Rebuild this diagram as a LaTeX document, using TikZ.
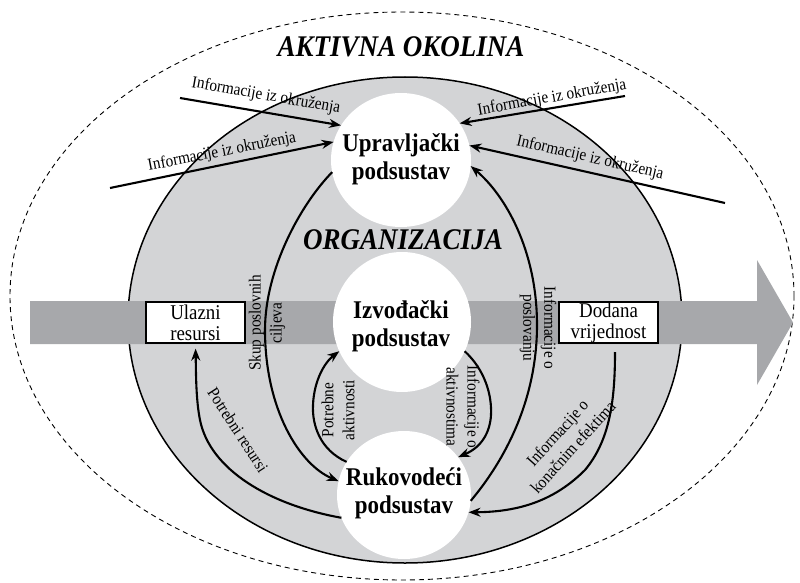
\documentclass[tikz,border=0pt]{standalone}
\usepackage{fontspec}
\setmainfont{Liberation Serif}[FakeStretch=0.9]
\usetikzlibrary{arrows.meta,shapes.geometric,calc}
\definecolor{orgfill}{RGB}{211,212,214}
\definecolor{bandgrey}{RGB}{167,168,171}
\begin{document}
\begin{tikzpicture}[x=1pt,y=-1pt,
  conn/.style={line width=2.1pt,-{Stealth[length=12pt,width=9pt]}},
  subsys/.style={ellipse,fill=white,inner sep=0pt,outer sep=0pt},
  sublbl/.style={inner sep=0pt,align=center,font=\fontsize{25.5}{28}\selectfont\bfseries},
  lbl/.style={inner sep=0pt,align=center,font=\fontsize{17}{21}\selectfont},
  boxlbl/.style={draw,line width=1.3pt,fill=white,inner sep=0pt,minimum width=99pt,minimum height=41pt,align=center,font=\fontsize{21}{21}\selectfont},
  titlelbl/.style={inner sep=0pt,font=\fontsize{30}{34}\selectfont\bfseries\itshape}
]
\useasboundingbox (0,0) rectangle (800,583);
% environment
\draw[line width=0.9pt,dash pattern=on 5pt off 4pt] (402,296) ellipse [x radius=392pt, y radius=284pt];
% organisation
\draw[fill=orgfill,line width=1.5pt] (405,320) ellipse [x radius=277pt, y radius=243pt];
% value band
\fill[bandgrey] (30,301) -- (757,301) -- (757,260) -- (793,322.5) -- (757,385) -- (757,344) -- (30,344) -- cycle;
% subsystems
\node[subsys,minimum width=140pt,minimum height=134pt] (U) at (401,160) {};
\node[subsys,minimum width=138pt,minimum height=140pt] (I) at (402,322) {};
\node[subsys,minimum width=134pt,minimum height=128pt] (R) at (404,495) {};
\node[sublbl] (UL) at (401,159) {Upravljački\\podsustav};
\node[sublbl] (IL) at (401,326) {Izvođački\\podsustav};
\node[sublbl] (RL) at (404,493) {Rukovodeći\\podsustav};
% boxes
\node[boxlbl] (Ul) at (195.5,322.5) {Ulazni\\resursi};
\node[boxlbl] (Do) at (608.5,322.5) {Dodana\\vrijednost};
% titles
\node[titlelbl,anchor=base] (T1) at (401,57) {AKTIVNA OKOLINA};
\node[titlelbl,anchor=base] (T2) at (403,249) {ORGANIZACIJA};
% environment information
\coordinate (e1) at (180,98);
\coordinate (e2) at (110,188);
\coordinate (e3) at (625,96);
\coordinate (e4) at (725,203);
\draw[conn] (e1) -- (U.150);
\draw[conn] (e2) -- (U.165);
\draw[conn] (e3) -- (U.32);
\draw[conn] (e4) -- (U.12);
\node[lbl,rotate=-10] at (266,96) {Informacije iz okruženja};
\node[lbl,rotate=11] at (222,152) {Informacije iz okruženja};
\node[lbl,rotate=10] at (552,98) {Informacije iz okruženja};
\node[lbl,rotate=-13] at (590,158) {Informacije iz okruženja};
% internal flows
\draw[conn] (U.190) .. controls (300,205) and (265,270) .. (265,330) .. controls (265,410) and (300,465) .. (R.168);
\draw[conn] (R.355) .. controls (505,460) and (537,400) .. (537,325) .. controls (537,250) and (505,195) .. (U.355);
\draw[conn] (R.150) .. controls (320,450) and (312,425) .. (313,405) .. controls (314,380) and (325,362) .. (I.205);
\draw[conn] (I.335) .. controls (485,370) and (492,395) .. (491,415) .. controls (490,432) and (482,447) .. (R.35);
\draw[conn,shorten >=5pt] (R.200) .. controls (270,505) and (210,470) .. (200,420) .. controls (196,400) and (196,375) .. (Ul.south);
\coordinate (d1) at (615,352);
\draw[conn] (d1) .. controls (615,400) and (610,440) .. (585,470) .. controls (555,500) and (520,512) .. (R.345);
% flow labels
\node[lbl,rotate=90] at (267,323) {Skup poslovnih\\ciljeva};
\node[lbl,rotate=-90] at (538,328) {Informacije o\\poslovanju};
\node[lbl,rotate=90] at (338,410) {Potrebne\\aktivnosti};
\node[lbl,rotate=-90] at (463,407) {Informacije o\\aktivnostima};
\node[lbl,rotate=-57] at (238,430) {Potrebni resursi};
\node[lbl,rotate=48] at (565,440) {Informacije o\\konačnim efektima};
\end{tikzpicture}
\end{document}
